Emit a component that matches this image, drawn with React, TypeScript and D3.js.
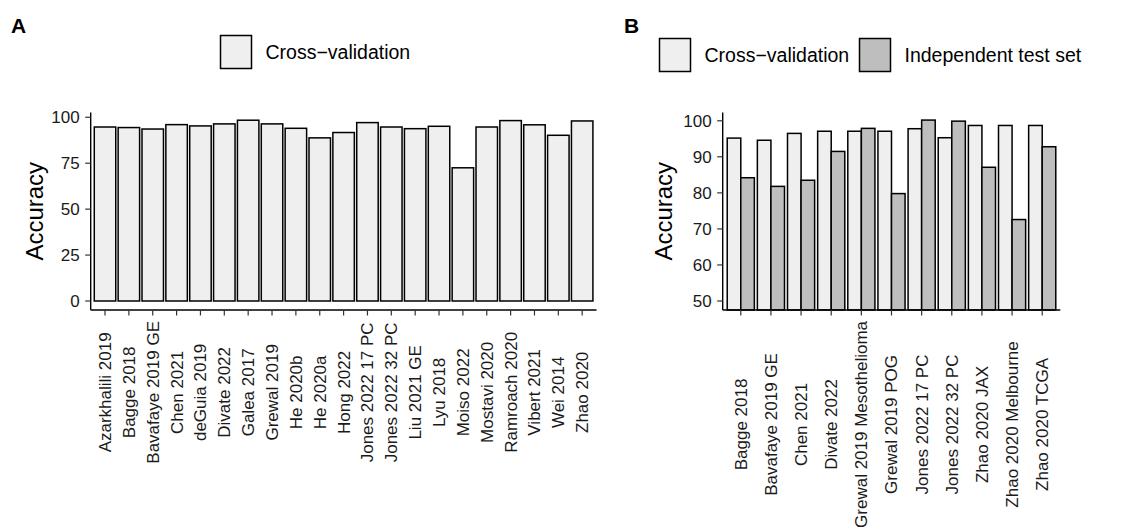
import React from "react";
import * as d3 from "d3";

// panel A: cross-validation accuracy per study
const studiesA = [
  "Azarkhalili 2019", "Bagge 2018", "Bavafaye 2019 GE", "Chen 2021", "deGuia 2019",
  "Divate 2022", "Galea 2017", "Grewal 2019", "He 2020b", "He 2020a", "Hong 2022",
  "Jones 2022 17 PC", "Jones 2022 32 PC", "Liu 2021 GE", "Lyu 2018", "Moiso 2022",
  "Mostavi 2020", "Ramroach 2020", "Vibert 2021", "Wei 2014", "Zhao 2020"
];
const cvA = [
  94.7, 94.4, 93.6, 96.0, 95.3, 96.4, 98.4, 96.4, 94.0, 88.8, 91.7,
  97.1, 94.7, 93.8, 95.1, 72.5, 94.7, 98.2, 95.9, 90.2, 98.0
];

// panel B: cross-validation vs independent test set
const studiesB = [
  "Bagge 2018", "Bavafaye 2019 GE", "Chen 2021", "Divate 2022",
  "Grewal 2019 Mesothelioma", "Grewal 2019 POG", "Jones 2022 17 PC",
  "Jones 2022 32 PC", "Zhao 2020 JAX", "Zhao 2020 Melbourne", "Zhao 2020 TCGA"
];
const cvB = [95.2, 94.6, 96.5, 97.1, 97.1, 97.1, 97.8, 95.3, 98.7, 98.7, 98.7];
const testB = [84.2, 81.8, 83.5, 91.5, 97.9, 79.8, 100.2, 99.9, 87.1, 72.6, 92.8];

const ticksA = [0, 25, 50, 75, 100];
const ticksB = [50, 60, 70, 80, 90, 100];
const seriesNames = ["Cross\u2212validation", "Independent test set"];

const FONT = '"Liberation Sans", Arial, Helvetica, sans-serif';
const FILLS = ["#EFEFEF", "#BEBEBE"];

let ctx = null;
function textWidth(s, size) {
  if (!ctx) ctx = document.createElement("canvas").getContext("2d");
  ctx.font = `${size}px ${FONT}`;
  return ctx.measureText(s).width;
}

function Panel({ categories, series, yDomain, yTicks, left, right, top, bottom, titleX }) {
  const x = d3.scaleBand().domain(categories).range([left, right]).paddingInner(0).paddingOuter(0.1);
  const y = d3.scaleLinear().domain(yDomain).range([bottom, top]);
  const bw = x.bandwidth() * 0.9;
  const sub = bw / series.length;
  const base = y(Math.max(0, yDomain[0]));
  const labelSize = 17;
  const maxLen = d3.max(categories, c => textWidth(c, labelSize));
  const labelCenter = bottom + 11 + maxLen / 2;

  return (
    <g>
      {series.map((vals, s) =>
        vals.map((v, i) => {
          const x0 = x(categories[i]) + (x.bandwidth() - bw) / 2 + s * sub;
          return (
            <rect
              key={`${s}-${i}`}
              x={x0}
              y={y(v)}
              width={sub}
              height={base - y(v)}
              fill={FILLS[s]}
              stroke="#000"
              strokeWidth={1.5}
            />
          );
        })
      )}
      {/* axes */}
      <line x1={left} x2={left} y1={top} y2={bottom} stroke="#000" strokeWidth={1.4} />
      <line x1={left} x2={right} y1={bottom} y2={bottom} stroke="#000" strokeWidth={1.4} />
      {yTicks.map(t => (
        <g key={t}>
          <line x1={left - 5.5} x2={left} y1={y(t)} y2={y(t)} stroke="#333" strokeWidth={1.2} />
          <text x={left - 11} y={y(t)} dy="0.35em" textAnchor="end" fontSize={17} fill="#1a1a1a">
            {t}
          </text>
        </g>
      ))}
      {categories.map(c => {
        const cx = x(c) + x.bandwidth() / 2;
        return (
          <g key={c}>
            <line x1={cx} x2={cx} y1={bottom} y2={bottom + 5.5} stroke="#333" strokeWidth={1.2} />
            <text
              transform={`translate(${cx},${labelCenter}) rotate(-90)`}
              dy="0.35em"
              textAnchor="middle"
              fontSize={labelSize}
              fill="#1a1a1a"
            >
              {c}
            </text>
          </g>
        );
      })}
      <text
        transform={`translate(${titleX},${(top + bottom) / 2}) rotate(-90)`}
        dy="0.35em"
        textAnchor="middle"
        fontSize={24}
        fill="#000"
      >
        Accuracy
      </text>
    </g>
  );
}

function Legend({ items, boxes, y }) {
  return (
    <g>
      {items.map((name, i) => (
        <g key={name}>
          <rect x={boxes[i]} y={y} width={31} height={33} fill={FILLS[i]} stroke="#000" strokeWidth={1.5} />
          <text x={boxes[i] + 45} y={y + 16.5} dy="0.35em" fontSize={19.5} fill="#000">
            {name}
          </text>
        </g>
      ))}
    </g>
  );
}

export default function App() {
  return (
    <div style={{ position: "absolute", left: 0, top: 0 }}>
      <svg width={1134} height={527} style={{ display: "block", fontFamily: FONT, background: "#fff" }}>
        <text x={11} y={33} fontSize={21} fontWeight="bold">A</text>
        <text x={624} y={33} fontSize={21} fontWeight="bold">B</text>
        <Legend items={seriesNames.slice(0, 1)} boxes={[220.5]} y={35.5} />
        <Legend items={seriesNames} boxes={[659.5, 859.5]} y={38.5} />
        <Panel
          categories={studiesA}
          series={[cvA]}
          yDomain={[-4.9, 102.6]}
          yTicks={ticksA}
          left={90.7}
          right={596.5}
          top={112.5}
          bottom={310}
          titleX={35}
        />
        <Panel
          categories={studiesB}
          series={[cvB, testB]}
          yDomain={[47.5, 102.3]}
          yTicks={ticksB}
          left={722.7}
          right={1060.3}
          top={112.5}
          bottom={310}
          titleX={664}
        />
      </svg>
    </div>
  );
}
